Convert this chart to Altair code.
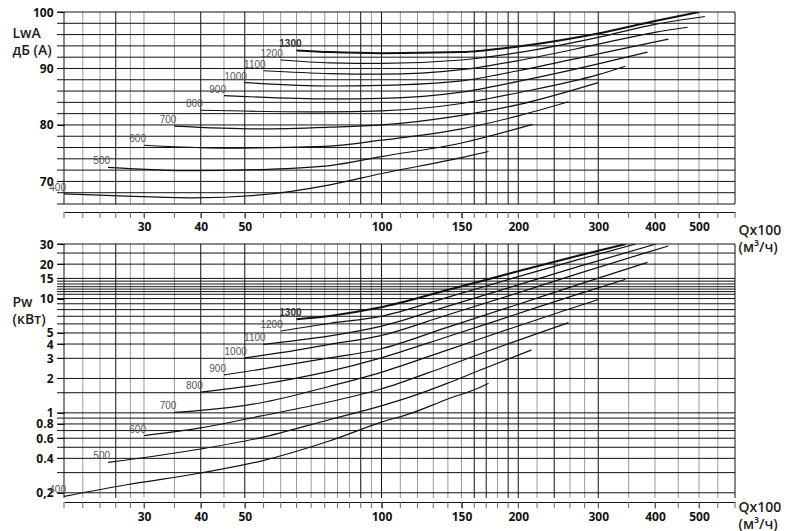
import json
import altair as alt
import pandas as pd

# ---------------- data ----------------
speeds = [400, 500, 600, 700, 800, 900, 1000, 1100, 1200, 1300]

# upper panel: sound power LwA, dB(A)  (Q x100 m3/h)
lwa_q = [
    [20, 27.5, 38.5, 54, 77, 100, 150, 172],
    [25, 38.5, 54, 77, 100, 150, 215],
    [30, 45, 75, 100, 150, 200, 258],
    [35, 54, 77, 100, 150, 200, 300],
    [40, 75, 100, 150, 200, 300, 344],
    [45, 77, 100, 150, 200, 300, 385],
    [50, 77, 100, 150, 200, 300, 428],
    [55, 77, 100, 150, 200, 300, 400, 472],
    [60, 77, 100, 150, 200, 300, 400, 515],
    [65, 77, 100, 150, 200, 300, 400, 500],
]
lwa_db = [
    [67.8, 67.4, 67.1, 67.6, 69.4, 71.4, 74.2, 75.3],
    [72.5, 71.9, 72.1, 72.8, 74.4, 76.8, 80.1],
    [76.4, 75.9, 76.2, 77.3, 79.3, 81.6, 84.1],
    [79.8, 79.3, 79.6, 80.0, 81.7, 83.6, 87.5],
    [82.6, 82.3, 82.5, 83.8, 85.7, 88.9, 90.4],
    [85.2, 84.6, 84.7, 85.8, 87.7, 90.8, 92.9],
    [87.5, 86.9, 87.0, 87.8, 89.6, 92.6, 95.2],
    [89.6, 89.1, 89.0, 89.8, 91.4, 94.3, 96.4, 97.3],
    [91.5, 91.0, 90.9, 91.5, 92.8, 95.5, 97.8, 99.2],
    [93.2, 92.9, 92.7, 92.9, 93.9, 96.2, 98.4, 100.0],
]

# lower panel: shaft power Pw, kW
pw_q = [
    [20, 27.5, 40, 54, 77, 100, 117, 139, 164, 172],
    [25, 40, 54, 77, 99, 117, 139, 164, 214],
    [30, 40, 54, 77, 99, 139, 194, 258],
    [35, 40, 54, 77, 99, 139, 194, 250, 300],
    [40, 54, 77, 99, 139, 194, 272, 344],
    [45, 54, 77, 99, 139, 194, 272, 385],
    [50, 60, 77, 99, 139, 194, 272, 381, 428],
    [55, 77, 99, 139, 194, 272, 402],
    [60, 77, 99, 139, 194, 272, 363],
    [65, 77, 99, 139, 194, 272, 345],
]
pw_kw = [
    [0.186, 0.235, 0.298, 0.377, 0.57, 0.83, 1.0, 1.31, 1.66, 1.81],
    [0.369, 0.483, 0.604, 0.875, 1.14, 1.4, 1.8, 2.35, 3.55],
    [0.632, 0.738, 0.935, 1.25, 1.6, 2.56, 4.14, 6.16],
    [1.01, 1.05, 1.22, 1.71, 2.24, 3.52, 5.53, 7.74, 9.8],
    [1.52, 1.77, 2.32, 3.0, 4.61, 7.1, 11.0, 14.7],
    [2.15, 2.4, 3.03, 3.6, 5.57, 8.57, 13.3, 20.7],
    [3.03, 3.36, 3.98, 4.71, 7.14, 10.8, 16.6, 25.1, 28.8],
    [3.98, 4.71, 5.68, 8.5, 12.7, 19.1, 30],
    [5.2, 6.08, 6.95, 10.2, 15.0, 22.0, 30],
    [6.6, 7.05, 8.34, 11.8, 16.8, 23.8, 30],
]

# grid / tick values
q_grid_dark = [20, 26, 40, 50, 90, 100, 160, 170, 190, 200, 240, 300, 600]
q_grid_light = [22, 24, 28, 30, 35, 45, 55, 60, 65, 70, 75, 80, 85, 95, 110,
                120, 130, 140, 150, 180, 220, 260, 280, 350, 400, 450, 500, 550]
q_labels = [30, 40, 50, 100, 150, 200, 300, 400, 500]
lwa_grid = [66, 68, 70, 72, 74, 76, 78, 80, 82, 84, 86, 88, 90, 92, 94, 96, 98, 100]
lwa_labels = [70, 80, 90, 100]
pw_grid = [0.2, 0.3, 0.4, 0.5, 0.6, 0.7, 0.8, 0.9, 1, 1.5, 2, 3, 4, 5, 6, 7, 8, 9,
           10, 10.9, 11.5, 12.1, 12.7, 13.4, 14.2, 15, 20, 25, 30]
pw_labels = [0.2, 0.4, 0.6, 0.8, 1, 2, 3, 4, 5, 10, 15, 20, 30]

# ---------------- build tables ----------------
def curves(qs_list, vs_list):
    rows = []
    for s, qs, vs in zip(speeds, qs_list, vs_list):
        for q, v in zip(qs, vs):
            rows.append({"speed": s, "q": q, "v": v})
    return pd.DataFrame(rows)


def starts(qs_list, vs_list):
    return pd.DataFrame({"speed": speeds, "q": [a[0] for a in qs_list],
                         "v": [a[0] for a in vs_list],
                         "lab": [str(s) for s in speeds]})


q_all = sorted(q_grid_dark + q_grid_light)
LABEL_FONT = "Open Sans"
TICK_LABEL = dict(labelFont=LABEL_FONT, labelFontWeight="bold", labelFontSize=12,
                  labelColor="#111", labelOverlap=False, labelFlush=False, labelBound=False)
TITLE = dict(titleFont=LABEL_FONT, titleFontWeight=600, titleFontSize=14, titleColor="#222",
             titleAngle=0, titleAlign="left", titleBaseline="top", titleLineHeight=17)

xscale = alt.Scale(type="log", domain=[20, 600], nice=False)
W = 671


def x_axis(offset, title_y):
    return alt.Axis(values=q_labels, format="d", grid=False, tickSize=6,
                    tickColor="#555", domainColor="#111", offset=offset, labelPadding=3,
                    title=["Qx100", "(м³/ч)"], titleX=674, titleY=title_y, **TICK_LABEL, **TITLE)


def panel(qs_list, vs_list, yscale, yaxis, ygrid, xaxis, xoff, height):
    X = alt.X("q:Q", scale=xscale, axis=xaxis)
    Y = alt.Y("v:Q", scale=yscale, axis=yaxis)
    light = alt.Chart(pd.DataFrame({"q": q_grid_light})).mark_rule(
        color="#9a9a9a", strokeWidth=1).encode(x=X)
    dark = alt.Chart(pd.DataFrame({"q": q_grid_dark})).mark_rule(
        color="#111", strokeWidth=1).encode(x=X)
    # small ticks under the separated x axis line
    xticks = alt.Chart(pd.DataFrame({"q": q_all})).mark_rule(
        color="#666", strokeWidth=1).encode(
        x=X, y=alt.value(height + xoff), y2=alt.value(height + xoff + 6))
    # horizontal grid, extended a little to the left as ticks
    hgrid = alt.Chart(pd.DataFrame({"v": ygrid})).mark_rule(
        color="#111", strokeWidth=1).encode(y=Y, x=alt.value(-7), x2=alt.value(W))
    df = curves(qs_list, vs_list)
    lines = alt.Chart(df).transform_filter("datum.speed < 1300").mark_line(
        color="#111", strokeWidth=1.2, interpolate="monotone", clip=True).encode(
        x=X, y=Y, detail="speed:N", order="q:Q")
    thick = alt.Chart(df).transform_filter("datum.speed == 1300").mark_line(
        color="#111", strokeWidth=2, interpolate="monotone", clip=True).encode(
        x=X, y=Y, order="q:Q")
    st = starts(qs_list, vs_list)
    labs = alt.Chart(st).transform_filter("datum.speed < 1300").mark_text(
        align="right", baseline="alphabetic", dx=2, dy=-3,
        font="Liberation Sans Narrow, Liberation Sans", fontSize=10, color="#555").encode(
        x=X, y=Y, text="lab:N")
    lab13 = alt.Chart(st).transform_filter("datum.speed == 1300").mark_text(
        align="right", baseline="alphabetic", dx=5, dy=-3, fontWeight="bold",
        font="Liberation Sans Narrow, Liberation Sans", fontSize=10, color="#333").encode(
        x=X, y=Y, text="lab:N")
    return alt.layer(light, dark, xticks, hgrid, lines, thick, labs, lab13).properties(
        width=W, height=height)


top_yaxis = alt.Axis(values=lwa_labels, format="d",
                     grid=False, domain=False, tickSize=7, tickColor="#111", labelPadding=4,
                     title=["LwA", "дБ (A)"], titleX=-52, titleY=14, **TICK_LABEL, **TITLE)
bot_yaxis = alt.Axis(values=pw_labels,
                     labelExpr="datum.value === 0.2 ? '0,2' : toString(datum.value)",
                     grid=False, domain=False, tickSize=7, tickColor="#111", labelPadding=4,
                     title=["Pw", "(кВт)"], titleX=-52, titleY=51, **TICK_LABEL, **TITLE)

top = panel(lwa_q, lwa_db, alt.Scale(domain=[66, 100], nice=False, zero=False),
            top_yaxis, lwa_grid, x_axis(8, 11), 8, 192)
bottom = panel(pw_q, pw_kw, alt.Scale(type="log", domain=[0.18, 30], nice=False),
               bot_yaxis, pw_grid, x_axis(4, -2), 4, 254)

chart = alt.vconcat(top, bottom, spacing=40, bounds="flush").properties(
    padding={"left": 12, "top": 6, "right": 0, "bottom": 0},
    background="white",
).configure_view(stroke=None)

chart.save("out.html", embed_options={"renderer": "svg", "actions": False})
